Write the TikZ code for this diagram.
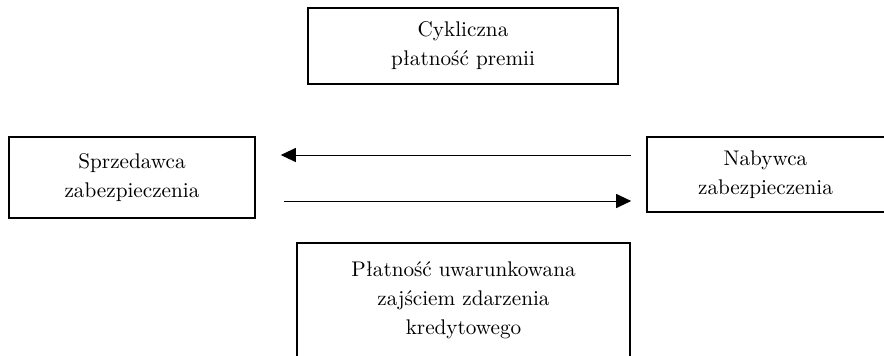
\documentclass[tikz,border=0pt]{standalone}
\usepackage{tikz}
\usetikzlibrary{positioning,arrows.meta}

\begin{document}
\begin{tikzpicture}[x=0.5pt,y=-0.5pt,every node/.style={font=\fontsize{10.6}{14.5}\selectfont},box/.style={draw,line width=0.8pt,align=center,inner sep=0pt},flow/.style={-{Triangle[length=7.5pt,width=7pt]},line width=0.5pt}]
    \clip (0,0) rectangle (884,355);
    \node[box,minimum width=155pt,minimum height=38pt] (premia) at (463,46) {Cykliczna\\ płatność premii};
    \node[box,minimum width=123pt,minimum height=40.5pt] (sprzedawca) at (132,177.5) {Sprzedawca\\ zabezpieczenia};
    \node[box,minimum width=126.5pt,minimum height=37.5pt] (nabywca) at (773.5,174.5) {\hspace*{-8pt}Nabywca\\ \hspace*{-8pt}zabezpieczenia};
    \node[box,minimum width=166.5pt,minimum height=57.5pt] (zdarzenie) at (463.5,300.5) {Płatność uwarunkowana\\ zajściem zdarzenia\\ kredytowego};
    \draw[flow,shorten <=7.5pt,shorten >=12.5pt] (nabywca.west |- 0,155) -- (sprzedawca.east |- 0,155);
    \draw[flow,shorten <=14pt,shorten >=7.5pt] (sprzedawca.east |- 0,201) -- (nabywca.west |- 0,201);
  \end{tikzpicture}
\end{document}
